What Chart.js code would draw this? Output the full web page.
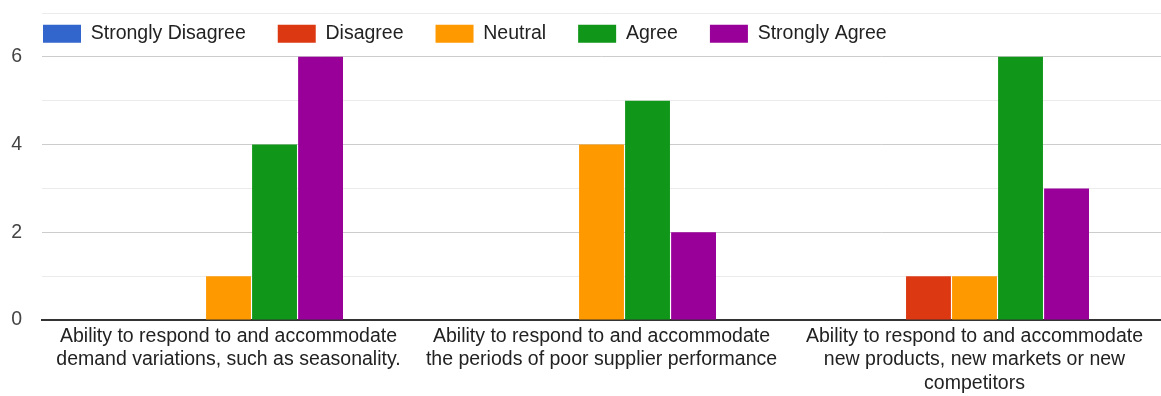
<!DOCTYPE html>
<html>
<head>
<meta charset="utf-8">
<script src="https://cdn.jsdelivr.net/npm/chart.js@4.4.1/dist/chart.umd.min.js"></script>
<style>
  html, body { margin: 0; padding: 0; background: #fff; }
  #wrap { width: 1161px; height: 396px; position: relative; }
</style>
</head>
<body>
<div id="wrap"><canvas id="myBarChart"></canvas></div>
<script>
// 題目（x 軸分類）
const categories = [
    ["Ability to respond to and accommodate", "demand variations, such as seasonality."],
    ["Ability to respond to and accommodate", "the periods of poor supplier performance"],
    ["Ability to respond to and accommodate", "new products, new markets or new", "competitors"]
];
const seriesNames = ["Strongly Disagree", "Disagree", "Neutral", "Agree", "Strongly Agree"];
const stronglyDisagree = [0, 0, 0];
const disagree = [0, 0, 1];
const neutral = [1, 4, 1];
const agree = [4, 5, 6];
const stronglyAgree = [6, 2, 3];
const yTickLabels = [0, 2, 4, 6];

const colors = ["#3366cc", "#dc3912", "#ff9900", "#109618", "#990099"];
const values = [stronglyDisagree, disagree, neutral, agree, stronglyAgree];
const FONT = 'Arial, "Liberation Sans", sans-serif';

let datasets = [];
seriesNames.forEach((name, i) => {
    datasets.push({
        label: name,
        data: values[i],
        backgroundColor: colors[i],
        borderColor: colors[i],
        borderWidth: 0,
        barPercentage: 0.975,
        categoryPercentage: 0.617
    });
});

// 圖例疊在繪圖區上方（Google 表單樣式），不佔版面高度
const legendOverlay = {
    id: 'legendOverlay',
    beforeLayout(chart) {
        const lg = chart.legend;
        if (lg && !lg._overlay) {
            const fit = lg.fit;
            lg.fit = function () {
                fit.call(this);
                this.height = 0;
            };
            lg._overlay = true;
        }
    },
    afterLayout(chart) {
        const lg = chart.legend;
        const pad = lg.options.labels.padding;
        lg.left = chart.chartArea.left + 1 - pad;
        lg.right = chart.chartArea.right;
        lg.width = lg.right - lg.left;
        lg.top = 24 - pad;
        lg.bottom = 80;
        lg.height = lg.bottom - lg.top;
    }
};

const ctx = document.getElementById('myBarChart').getContext('2d');
const myBarChart = new Chart(ctx, {
    type: 'bar',
    data: {
        labels: categories,
        datasets: datasets
    },
    plugins: [legendOverlay],
    options: {
        responsive: true,
        maintainAspectRatio: false,
        animation: false,
        layout: {
            padding: { top: 13, right: 0, bottom: 0, left: 0 }
        },
        plugins: {
            legend: {
                position: 'top',
                align: 'start',
                labels: {
                    boxWidth: 38,
                    boxHeight: 18,
                    padding: 32,
                    color: '#222',
                    font: { family: FONT, size: 19.5 }
                }
            },
            tooltip: { enabled: false }
        },
        scales: {
            x: {
                grid: { display: false },
                border: { display: true, color: '#333', width: 2 },
                afterFit: (scale) => { scale.height = 76; },
                ticks: {
                    color: '#222',
                    padding: -3,
                    maxRotation: 0,
                    autoSkip: false,
                    font: { family: FONT, size: 19.5, lineHeight: 1.2 }
                }
            },
            y: {
                min: 0,
                max: 7,
                border: { display: false },
                afterFit: (scale) => {
                    scale.width = 42;
                    scale.paddingTop = 0;
                    scale.paddingBottom = 0;
                },
                grid: {
                    drawTicks: false,
                    color: (c) => {
                        const v = c.tick.value;
                        if (v === 0) return '#333';
                        return yTickLabels.includes(v) ? '#cccccc' : '#ebebeb';
                    }
                },
                ticks: {
                    stepSize: 1,
                    padding: 20,
                    color: '#444',
                    font: { family: FONT, size: 19.5 },
                    callback: (v) => yTickLabels.includes(v) ? String(v) : ''
                }
            }
        }
    }
});
</script>
</body>
</html>
